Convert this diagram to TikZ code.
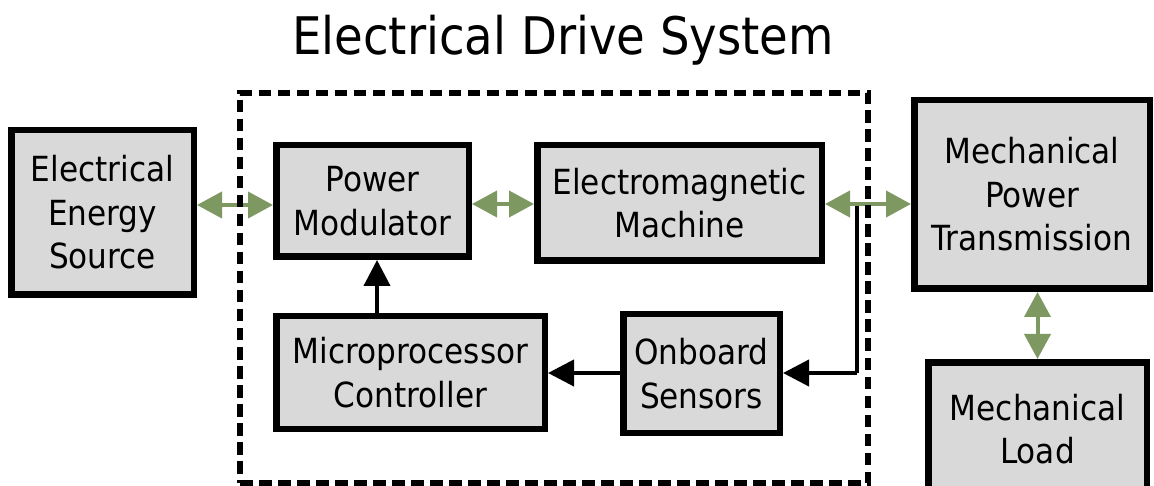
\documentclass[tikz,border=0pt]{standalone}
\usepackage{fontspec}
\setmainfont{DejaVu Sans Condensed}
\usetikzlibrary{arrows.meta}
\definecolor{boxgray}{RGB}{217,217,217}
\definecolor{olivegr}{RGB}{126,152,98}
\newcommand\bxfont{\fontsize{34.6}{43.5}\selectfont}
\newcommand\ttlfont{\fontsize{51.8}{60}\selectfont}
\tikzset{
  blockbox/.style={draw=black, fill=boxgray, line width=6.5pt, inner sep=0pt,
    align=center, font=\bxfont},
  drivebox/.style={draw=black, line width=6.5pt, dash pattern=on 12.5pt off 6.5pt,
    inner sep=0pt, minimum width=628pt, minimum height=390pt},
  garrow/.style={draw=olivegr, line width=4pt,
    {Triangle[length=25pt,width=26pt]}-{Triangle[length=25pt,width=26pt]}},
  barrow/.style={draw=black, line width=4pt, -{Triangle[length=26pt,width=26pt]}},
  fbline/.style={draw=black, line width=4pt}
}
\begin{document}
\begin{tikzpicture}[x=1pt,y=-1pt]
\useasboundingbox (0,0) rectangle (1154,486);
% title
\node[anchor=base, font=\ttlfont, inner sep=0pt] (title) at (563,55) {Electrical Drive System};
% blocks
\node[blockbox, minimum width=182.5pt, minimum height=164.5pt] (src) at (102.5,212.5)
  {Electrical\\Energy\\Source};
\node[blockbox, minimum width=192.5pt, minimum height=111.5pt] (pm) at (372.5,201)
  {Power\\Modulator};
\node[blockbox, minimum width=284.5pt, minimum height=115.5pt] (em) at (679.5,203)
  {Electromagnetic\\Machine};
\node[blockbox, minimum width=235.5pt, minimum height=188.5pt] (mpt) at (1032,194.5)
  {Mechanical\\Power\\Transmission};
\node[blockbox, minimum width=268.5pt, minimum height=112.5pt] (mc) at (410.5,372.5)
  {Microprocessor\\Controller};
\node[blockbox, minimum width=156.5pt, minimum height=118.5pt] (ob) at (701.5,373.5)
  {Onboard\\Sensors};
\node[blockbox, minimum width=218.5pt, minimum height=134pt] (ml) at (1037.5,429.25)
  {Mechanical\\Load};
% helper coordinates
\coordinate (ya) at (0,205);
\coordinate (yc) at (0,204);
\coordinate (yb) at (0,373);
\coordinate (xa) at (377,0);
\coordinate (fbs) at (857,206);
% feedback line
\draw[fbline] (fbs) -- (fbs |- yb);
\draw[barrow] (fbs |- yb) -- (ob.east |- yb);
% black arrows
\draw[barrow] (ob.west |- yb) -- (mc.east |- yb);
\draw[barrow] (mc.north -| xa) -- (pm.south -| xa);
% green arrows
\draw[garrow] (src.east |- ya) -- (pm.west |- ya);
\draw[garrow] (pm.east |- yc) -- (em.west |- yc);
\draw[garrow] (em.east |- yc) -- (mpt.west |- yc);
\draw[garrow] (ml.north |- mpt.south) -- (ml.north);
% dashed drive system boundary
\node[drivebox] (drive) at (554,288) {};
\end{tikzpicture}
\end{document}
